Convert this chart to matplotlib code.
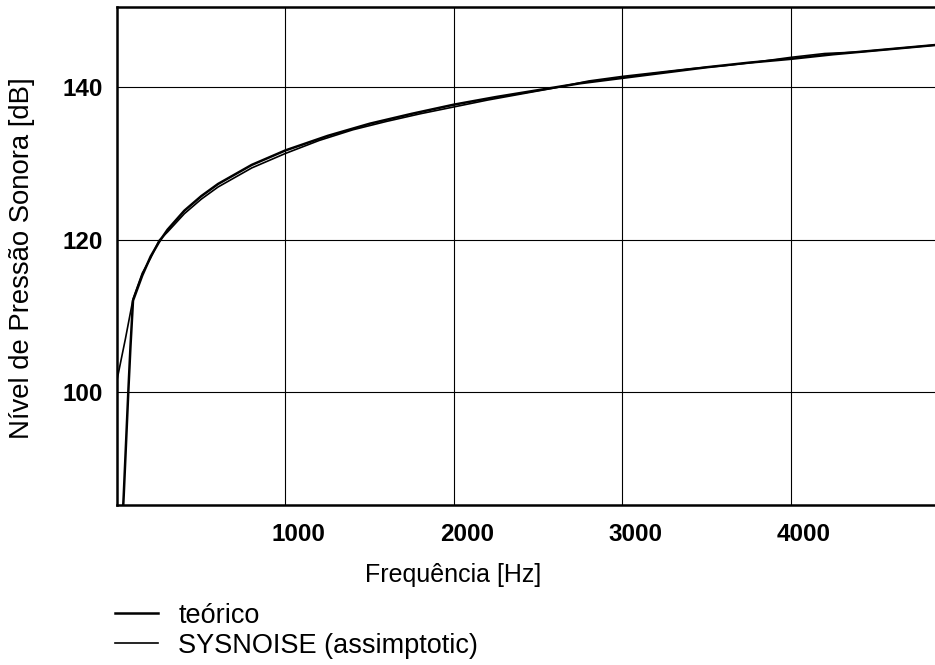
import matplotlib
matplotlib.use('Agg')
from matplotlib import pyplot as plt
import matplotlib.transforms as mtransforms

plt.rcParams['font.family'] = ['Liberation Sans', 'DejaVu Sans']

# curva teorica
freq_teo = [30, 40, 50, 67, 80, 95, 150, 200, 250, 300, 400, 500, 600, 800,
            1000, 1250, 1500, 1750, 2000, 2250, 2500, 2750, 3000, 3250, 3500,
            3750, 4000, 4250, 4500, 4750, 4950]
spl_teo = [82.0, 86.5, 91.5, 100.0, 106.0, 112.0, 115.3, 117.8, 119.7, 121.3,
           123.8, 125.7, 127.3, 129.8, 131.7, 133.6, 135.2, 136.5, 137.7, 138.7,
           139.6, 140.5, 141.2, 141.9, 142.6, 143.2, 143.7, 144.3, 144.8, 145.3,
           145.7]

# SYSNOISE (assimptotic)
freq_sys = [0, 50, 95, 150, 200, 250, 300, 400, 500, 600, 800, 1000, 1200,
            1400, 1600, 1800, 2000, 2200, 2400, 2600, 2800, 3000, 3200, 3400,
            3600, 3800, 4000, 4200, 4400, 4600, 4800, 4950]
spl_sys = [101.6, 107.0, 112.2, 115.6, 117.6, 119.9, 121.0, 123.4, 125.3,
           126.9, 129.4, 131.3, 133.0, 134.4, 135.5, 136.5, 137.4, 138.3, 139.1,
           139.9, 140.8, 141.4, 141.9, 142.4, 142.8, 143.3, 143.9, 144.4, 144.6,
           145.0, 145.4, 145.7]

xticks = [1000, 2000, 3000, 4000]
yticks = [100, 120, 140]

W, H = 935, 665
fig = plt.figure(figsize=(W / 100, H / 100), dpi=100)
ax = fig.add_axes([117 / W, (H - 505) / H, (945 - 117) / W, (505 - 7) / H])

ax.plot(freq_teo, spl_teo, color='black', lw=1.8, label='teórico')
ax.plot(freq_sys, spl_sys, color='black', lw=1.2, label='SYSNOISE (assimptotic)')

ax.set_xlim(0, (945 - 117) / 168.5 * 1000)
ax.set_ylim(85.2, 150.5)
ax.set_xticks(xticks)
ax.set_yticks(yticks)
ax.grid(True, color='black', lw=0.8)
ax.tick_params(length=0, labelsize=17.5)
ax.tick_params(axis='x', pad=13)
ax.tick_params(axis='y', pad=10)
# labels in the original sit a little right of the grid lines
shift = mtransforms.ScaledTranslation(0.13, 0, fig.dpi_scale_trans)
for lab in ax.get_xticklabels():
    lab.set_fontweight('bold')
    lab.set_transform(lab.get_transform() + shift)
for lab in ax.get_yticklabels():
    lab.set_fontweight('bold')
for s in ax.spines.values():
    s.set_linewidth(1.8)

fig.text(22 / W, 1 - 258 / H, 'Nível de Pressão Sonora [dB]', fontsize=19.8,
         rotation=90, ha='center', va='center')
fig.text(453 / W, 1 - 575 / H, 'Frequência [Hz]', fontsize=18,
         ha='center', va='center')

fig.legend(loc='upper left', bbox_to_anchor=(104 / W, 1 - 592 / H),
           frameon=False, fontsize=19.5, handlelength=1.6,
           handletextpad=0.75, labelspacing=0.15, borderaxespad=0)

fig.savefig('out.png', dpi=100)
